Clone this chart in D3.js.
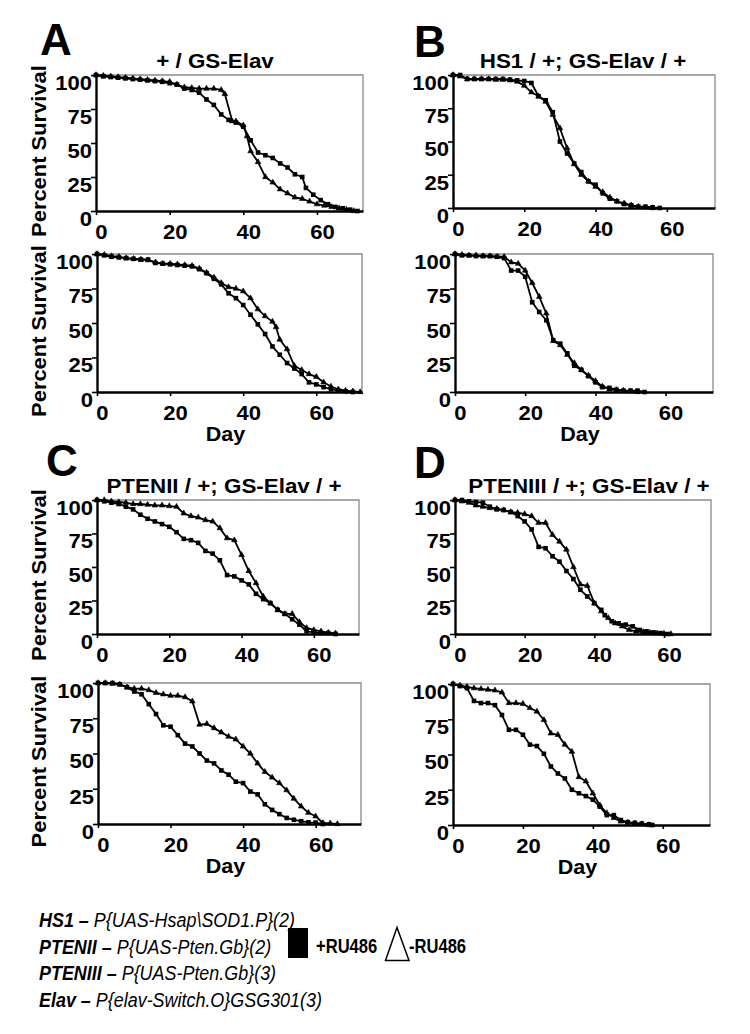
<!DOCTYPE html>
<html><head><meta charset="utf-8">
<script src="https://cdn.jsdelivr.net/npm/d3@7"></script>
<style>
body{margin:0;background:#fff}
svg{display:block}
text{font-family:"Liberation Sans",Arial,Helvetica,sans-serif;fill:#000}
</style>
</head><body>
<svg id="chart" width="750" height="1034"></svg>
<script>
// ---------- DATA ----------
const xTicks = [0, 20, 40, 60];
const yTicks = [0, 25, 50, 75, 100];
const panelLetters = ["A", "B", "C", "D"];
const panelTitles = ["+ / GS-Elav", "HS1 / +; GS-Elav / +", "PTENII / +; GS-Elav / +", "PTENIII / +; GS-Elav / +"];
const legendNames = ["HS1", "PTENII", "PTENIII", "Elav"];
const legendAlleles = ["P{UAS-Hsap\\SOD1.P}(2)", "P{UAS-Pten.Gb}(2)", "P{UAS-Pten.Gb}(3)", "P{elav-Switch.O}GSG301(3)"];
const seriesLabels = ["+RU486", "-RU486"];

// [day, percent survival]; plus = +RU486 (squares), minus = -RU486 (triangles)
const A1_plus = [[0,100],[2,99],[4,98.5],[6,98],[8,97.5],[10,97],[12,96.5],[14,96],[16,95.5],[18,95],[20,94],[22,93],[24,90],[26,89],[28,87],[30,82],[32,78],[34,71],[36,67],[38,65],[40,62],[42,52],[44,43],[46,41],[48,39],[50,35],[52,32],[54,27],[56,25],[57,17],[59,12],[61,8],[63,5],[65,3],[67,2],[69,1],[71,0]];
const A1_minus = [[0,100],[2,99.5],[4,99],[6,98.5],[8,98],[10,97.5],[12,97],[14,96.5],[16,96],[18,95.5],[20,95],[22,93],[24,91],[26,90.5],[28,90],[30,90],[32,90],[34,89],[35,86],[37,66],[38,66],[40,63],[41,55],[42,44],[44,36],[46,25],[48,21],[50,16],[52,13],[54,10],[56,9],[58,7],[60,5],[62,4],[64,3],[66,2],[68,1],[70,0]];
const A2_plus = [[0,100],[2,99],[4,98],[6,97.5],[8,97],[10,96.5],[12,96],[14,96],[16,93.5],[18,93],[20,92.5],[22,92],[24,91.5],[26,91],[28,89],[30,86],[32,82],[34,78],[36,71.5],[38,68],[40,63],[42,56],[44,49],[46,42],[48,33],[50,27],[52,21],[54,17],[56,13],[58,7],[60,5.5],[62,3.5],[64,2],[66,1],[68,0.5],[70,0]];
const A2_minus = [[0,100],[2,99.5],[4,98.5],[6,98],[8,97],[10,96.5],[12,96],[14,95.5],[16,94],[18,93],[20,93],[22,92.5],[24,92],[26,91.5],[28,89.5],[30,86.5],[32,83],[34,79],[36,76],[38,75],[40,73],[42,68],[44,60],[46,55],[48,51],[49,47],[50,38],[52,31],[54,19],[56,16],[58,13],[60,11],[62,7],[64,4],[66,2],[68,1],[70,0.5],[72,0]];
const B1_plus = [[0,100],[2,100],[4,97],[6,97],[8,97],[10,97],[12,97],[14,97],[16,96.5],[18,96],[20,95.5],[22,94],[24,84],[26,81],[28,72],[30,50],[32,41],[34,33.5],[36,27],[38,20],[40,17.5],[42,11],[44,7],[46,5],[48,3],[50,2],[52,1],[54,1],[56,0.5],[58,0]];
const B1_minus = [[0,100],[2,99],[4,97],[6,97],[8,97],[10,97],[12,96.5],[14,96.5],[16,96],[18,95],[20,92],[22,87],[24,84],[26,80],[28,70],[30,60],[32,45],[34,33],[36,25],[38,20],[40,16],[42,12],[44,8],[46,5],[48,3.5],[50,2],[52,1],[54,0.5],[56,0]];
const B2_plus = [[0,100],[2,99],[4,99],[6,98.5],[8,98.5],[10,98.5],[12,98],[14,97],[16,88],[18,88],[20,83.5],[22,65],[24,58],[26,52],[28,37.5],[30,35],[32,28],[34,19],[36,16],[38,11.5],[40,7],[42,3.5],[44,3],[46,1.7],[48,1],[50,1],[52,1],[54,0]];
const B2_minus = [[0,100],[2,99.5],[4,99],[6,99],[8,98.5],[10,98.5],[12,98],[14,98],[16,94],[18,93],[20,88],[22,79],[24,69],[26,57],[28,37],[30,34],[32,27],[34,21],[36,16],[38,12],[40,8],[42,4],[44,2],[46,1.5],[48,1],[50,0.5],[52,0]];
const C1_plus = [[0,100],[2,99],[4,98],[6,97],[8,95],[10,93],[12,89],[14,86],[16,84],[18,82],[20,80],[22,76],[24,71],[26,70],[28,68],[30,62],[32,60],[34,55],[36,44],[38,43],[40,40],[42,37],[44,30],[46,26],[48,23],[50,18],[52,15],[54,11],[56,7],[58,2],[60,1.2],[62,0.7],[64,0.7],[66,0]];
const C1_minus = [[0,100],[2,100],[4,99],[6,98.5],[8,98],[10,97],[12,97],[14,96.5],[16,96],[18,96],[20,95.5],[22,95],[24,90],[26,88],[28,87],[30,85],[32,84],[34,79],[36,71.5],[38,70],[40,59],[42,47],[44,38],[46,28],[48,23],[50,18],[52,15],[54,15],[56,9],[58,4.5],[60,3],[62,2],[64,1],[66,0.5]];
const C2_plus = [[0,100],[2,100],[4,100],[6,99],[8,97],[10,94],[12,92],[14,85],[16,78],[18,70],[20,69],[22,63],[24,57],[26,55],[28,50],[30,45],[32,43],[34,38],[36,35],[38,30],[40,29],[42,23],[44,21],[46,14],[48,10],[50,7],[52,4.3],[54,3],[56,2],[58,1.2],[60,1],[62,0]];
const C2_minus = [[0,100],[2,100],[4,99.5],[6,99],[8,97],[10,96],[12,96],[14,95],[16,93],[18,92],[20,91],[22,91],[24,90],[26,87],[28,70.5],[30,71],[32,68],[34,65],[36,62],[38,60],[40,55],[42,50],[44,43],[46,37],[48,33],[50,29],[52,24],[54,18],[56,12.5],[58,8],[60,5.5],[62,0.7],[64,0.5],[66,0]];
const D1_plus = [[0,100],[2,100],[4,99],[6,98.5],[8,98],[10,95],[12,93],[14,92.5],[16,91],[18,88],[20,84],[22,78],[24,65],[26,64],[28,58],[30,54],[32,47],[34,41],[36,33],[38,28],[40,23],[42,18],[43,14],[45,9.5],[47,8],[49,7],[51,5.7],[53,3],[55,2],[57,1.2],[59,0.7],[61,0]];
const D1_minus = [[0,100],[2,99],[4,98],[6,96],[8,95],[10,94],[12,93.5],[14,92.5],[16,91],[18,90.5],[20,89.5],[22,88],[24,83],[26,83],[28,74],[30,69],[32,63],[34,50],[36,37],[38,36],[40,23],[42,17],[44,12],[46,8],[48,5.7],[50,3],[52,2],[54,1.5],[56,1],[58,0.5],[60,0.3],[62,0]];
const D2_plus = [[0,100],[2,98.5],[4,97],[6,88],[8,86.5],[10,86.5],[12,85],[14,78],[16,67.5],[18,67.5],[20,64],[22,57],[24,56],[26,50.5],[28,41.5],[30,36.5],[32,33],[34,25],[36,22.5],[38,20.5],[40,18],[42,13],[44,7],[46,7],[48,3.5],[50,2],[52,1.5],[54,1],[56,0.5],[57,0]];
const D2_minus = [[0,100],[2,99],[4,98],[6,97],[8,96.5],[10,96],[12,95.5],[14,94],[16,86.5],[18,86.5],[20,86],[22,83],[24,80.5],[26,74.5],[28,65],[30,64],[32,57],[34,52],[36,34],[38,31],[40,22.5],[42,14],[44,8.5],[46,5],[48,2.5],[50,1.7],[52,1.2],[54,0.7],[56,0]];

// ---------- LAYOUT ----------
const panels = [
  {plus:A1_plus, minus:A1_minus, l:96,  r:363, t:75,  b:211, xMax:72.5, letter:0, title:0, titleX:215, ylab:true,  xlab:false},
  {plus:A2_plus, minus:A2_minus, l:97,  r:362, t:254, b:392, xMax:72.5, ylab:true,  xlab:true},
  {plus:B1_plus, minus:B1_minus, l:453, r:715, t:75,  b:208, xMax:73.5, letter:1, title:1, titleX:583, ylab:false, xlab:false},
  {plus:B2_plus, minus:B2_minus, l:455, r:713, t:254, b:392, xMax:73.5, ylab:false, xlab:true},
  {plus:C1_plus, minus:C1_minus, l:97,  r:359, t:500, b:634, xMax:72.5, letter:2, title:2, titleX:224, ylab:true,  xlab:false},
  {plus:C2_plus, minus:C2_minus, l:98,  r:361, t:683, b:824, xMax:72.5, ylab:true,  xlab:true},
  {plus:D1_plus, minus:D1_minus, l:455, r:711, t:500, b:634, xMax:73.5, letter:3, title:3, titleX:589, ylab:false, xlab:false},
  {plus:D2_plus, minus:D2_minus, l:453, r:710, t:684, b:825, xMax:73.5, ylab:false, xlab:true}
];
const letterPos = [[40,55],[414,57],[46,476],[414,478]];

const svg = d3.select("#chart");

function stretchedText(parent, x, y, str, opts) {
  const o = Object.assign({size:20.5, sx:1.09, anchor:"middle", weight:"bold", rotate:0}, opts || {});
  return parent.append("text")
    .attr("transform", `translate(${x},${y}) rotate(${o.rotate}) scale(${o.sx},1)`)
    .attr("text-anchor", o.anchor)
    .attr("font-size", o.size)
    .attr("font-weight", o.weight)
    .text(str);
}

const TFS = 21, TSX = 1.05;
panels.forEach(p => {
  const x = d3.scaleLinear().domain([0, p.xMax]).range([p.l, p.r]);
  const y = d3.scaleLinear().domain([0, 100]).range([p.b, p.t]);
  const g = svg.append("g");

  // frame (top/right thin gray)
  g.append("path")
    .attr("d", `M${x(0)},${y(100)}H${x(p.xMax)}V${y(0)}`)
    .attr("fill", "none").attr("stroke", "#8a8a8a").attr("stroke-width", 1.3);

  // axes
  const yAx = g.append("g").attr("transform", `translate(${x(0)},0)`)
    .call(d3.axisLeft(y).tickValues(yTicks).tickSize(5).tickSizeOuter(0));
  const xAx = g.append("g").attr("transform", `translate(0,${y(0)})`)
    .call(d3.axisBottom(x).tickValues(xTicks).tickSize(4).tickSizeOuter(0));
  [yAx, xAx].forEach(a => {
    a.select(".domain").attr("stroke", "#000").attr("stroke-width", 2.4);
    a.selectAll(".tick line").attr("stroke", "#000").attr("stroke-width", 1.6);
    a.selectAll("text").attr("font-size", TFS).attr("font-weight", "bold")
      .attr("font-family", '"Liberation Sans",Arial,sans-serif').attr("fill", "#000");
  });
  yAx.selectAll("text").attr("x", 0).attr("dy", "0.35em")
    .attr("transform", `translate(-4,7) scale(${TSX},1)`);
  xAx.selectAll("text").attr("y", 0).attr("dy", 0)
    .attr("transform", `translate(5,28) scale(${TSX},1)`);

  // curves
  const line = d3.line().x(d => x(d[0])).y(d => y(d[1]));
  [p.minus, p.plus].forEach(s => {
    g.append("path").datum(s).attr("d", line)
      .attr("fill", "none").attr("stroke", "#000").attr("stroke-width", 1.8)
      .attr("stroke-linejoin", "round");
  });
  g.selectAll(".sq").data(p.plus).join("rect")
    .attr("x", d => x(d[0]) - 2.3).attr("y", d => y(d[1]) - 2.3)
    .attr("width", 4.6).attr("height", 4.6).attr("fill", "#000");
  const tri = d3.symbol(d3.symbolTriangle, 14);
  g.selectAll(".tr").data(p.minus).join("path")
    .attr("d", tri).attr("transform", d => `translate(${x(d[0])},${y(d[1])})`)
    .attr("fill", "#000").attr("stroke", "#000").attr("stroke-width", 0.6);

  // labels
  const cx = (p.l + p.r) / 2, cy = (p.t + p.b) / 2;
  if (p.ylab) stretchedText(svg, 46, cy + 8, "Percent Survival", {rotate:-90, sx:1.07});
  if (p.xlab) stretchedText(svg, cx - 4, p.b + 49, "Day", {sx:1.05});
  if (p.title !== undefined) stretchedText(svg, p.titleX, p.t - 7, panelTitles[p.title], {size:20, sx:1.12});
  if (p.letter !== undefined) {
    const lp = letterPos[p.letter];
    svg.append("text").attr("x", lp[0]).attr("y", lp[1])
      .attr("font-size", 44).attr("font-weight", "bold").text(panelLetters[p.letter]);
  }
});

// ---------- LEGEND ----------
const LSX = 0.92;
legendNames.forEach((n, i) => {
  const t = svg.append("text")
    .attr("transform", `translate(39,${927 + i * 26.7}) scale(${LSX},1)`)
    .attr("font-size", 19.5).attr("font-style", "italic");
  t.append("tspan").attr("font-weight", "bold").text(n + " \u2013 ");
  t.append("tspan").text(legendAlleles[i]);
});
svg.append("rect").attr("x", 288).attr("y", 928).attr("width", 20).attr("height", 30).attr("fill", "#000");
stretchedText(svg, 316, 953, seriesLabels[0], {anchor:"start", size:19.5, sx:0.85});
svg.append("path").attr("d", "M385.5,960.5L409,960.5L397,927.5Z")
  .attr("fill", "#fff").attr("stroke", "#000").attr("stroke-width", 1.5);
stretchedText(svg, 409, 953, seriesLabels[1], {anchor:"start", size:19.5, sx:0.85});
</script>
</body></html>
